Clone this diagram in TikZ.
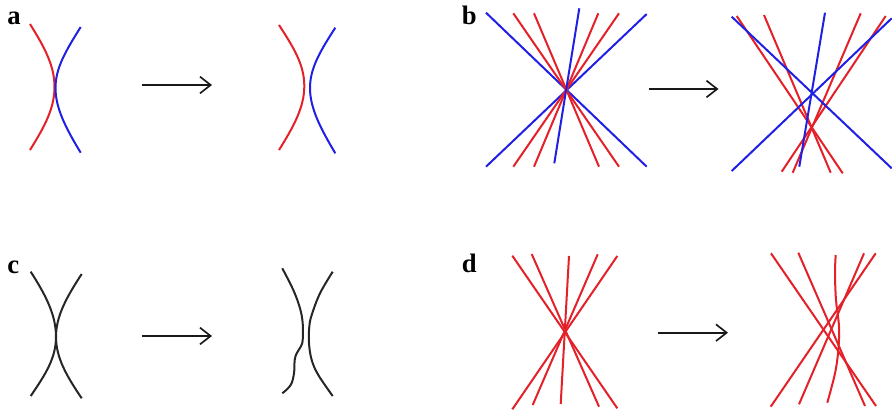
\documentclass[tikz,border=0pt]{standalone}
\usepackage{fontspec}
\setmainfont{Liberation Serif}
\usetikzlibrary{arrows.meta}
\definecolor{lred}{RGB}{228,32,40}
\definecolor{lblue}{RGB}{32,32,228}
\tikzset{
  rl/.style={draw=lred,line width=1.5pt},
  bl/.style={draw=lblue,line width=1.5pt},
  kl/.style={draw=black!85,line width=1.5pt},
  arr/.style={draw=black!90,line width=1.25pt,-{Straight Barb[length=8pt,width=12.5pt,line width=1.25pt]}},
  lab/.style={anchor=base west,inner sep=0pt,font=\fontsize{20}{20}\selectfont\bfseries}
}
\begin{document}
\begin{tikzpicture}[x=0.75pt,y=-0.75pt]
\useasboundingbox (0,0) rectangle (892,411);
% labels
\node[lab] (la) at (7,24) {a};
\node[lab] (lb) at (461.7,24) {b};
\node[lab] (lc) at (7,273) {c};
\node[lab] (ld) at (461.7,272) {d};
% arrows
\coordinate (a1) at (141.7,85); \coordinate (a2) at (212,85);
\coordinate (b1) at (648.5,89); \coordinate (b2) at (718.5,89);
\coordinate (c1) at (141.7,336); \coordinate (c2) at (212,336);
\coordinate (d1) at (657.7,332.7); \coordinate (d2) at (728,332.7);
\draw[arr] (a1) -- (a2);
\draw[arr] (b1) -- (b2);
\draw[arr] (c1) -- (c2);
\draw[arr] (d1) -- (d2);
% panel a left
\draw[rl] (30,24) .. controls (45,48) and (54.5,66) .. (54.5,87) .. controls (54.5,108) and (45,126) .. (30,150);
\draw[bl] (80.7,27) .. controls (65.7,51) and (55.5,68) .. (55.5,88) .. controls (55.5,108) and (65.7,128) .. (80.7,152.7);
% panel a right
\draw[rl] (279,25) .. controls (294,48) and (304.3,65) .. (304.3,86) .. controls (304.3,107) and (294,126) .. (279,150);
\draw[bl] (335.3,27.7) .. controls (320.3,51) and (310,68) .. (310,88) .. controls (310,108) and (320.3,128) .. (335.3,153.3);
% panel b left
\draw[bl] (486,12.7) -- (646.7,166.7);
\draw[bl] (646.7,14) -- (486,166.7);
\draw[rl] (513.3,13.3) -- (619,166.7);
\draw[rl] (534,13.3) -- (599,166.7);
\draw[rl] (598.3,13.3) -- (534,166.7);
\draw[rl] (619,13.3) -- (513.3,166.7);
\draw[bl] (579.3,8.3) -- (554.3,163.3);
% panel b right
\draw[rl] (736.7,16) -- (842.7,173.3);
\draw[rl] (764,15) -- (830.7,172.7);
\draw[rl] (860.7,13.3) -- (792.7,172.7);
\draw[rl] (885.7,16) -- (781.7,171.7);
\draw[bl] (731.7,16.7) -- (891.7,168.3);
\draw[bl] (891.7,18.3) -- (731.7,171);
\draw[bl] (825,12.7) -- (799.3,166.7);
% panel c left
\draw[kl] (30.7,271.7) .. controls (45.7,295) and (56,315) .. (56,336.7) .. controls (56,358) and (45.7,374) .. (30.7,396);
\draw[kl] (81.7,274) .. controls (66.7,297) and (56,316) .. (56,336.7) .. controls (56,358) and (66.7,376) .. (81.7,398.3);
% panel c right
\draw[kl] plot[smooth,tension=0.6] coordinates {(282.3,268.3) (293.3,290) (300,308.3) (302.7,323.3) (302.7,340) (300.7,346.7) (296.7,353.3) (294.7,360) (294,373.3) (290.7,385) (282.3,393.3)};
\draw[kl] plot[smooth,tension=0.6] coordinates {(332.7,271.7) (320,293.3) (311.7,315) (309.3,326.7) (309,343.3) (311.7,360) (318.3,375) (332.7,396)};
% panel d left
\draw[rl] (512.3,255.7) -- (617.3,408.3);
\draw[rl] (531.7,254) -- (599,406.7);
\draw[rl] (569,256) -- (560.7,404);
\draw[rl] (597.7,254.3) -- (532.7,405);
\draw[rl] (617.3,256) -- (512.3,409.3);
% panel d right
\draw[rl] (771,253.3) -- (876,406);
\draw[rl] (798.3,252.7) -- (865,406);
\draw[rl] plot[smooth,tension=0.6] coordinates {(835.7,255) (835,273.3) (836,300) (839,326.7) (838.3,350) (835,373.3) (827.3,402.7)};
\draw[rl] (864,253.3) -- (799,404.3);
\draw[rl] (875.7,253.3) -- (770.7,406.7);
\end{tikzpicture}
\end{document}
